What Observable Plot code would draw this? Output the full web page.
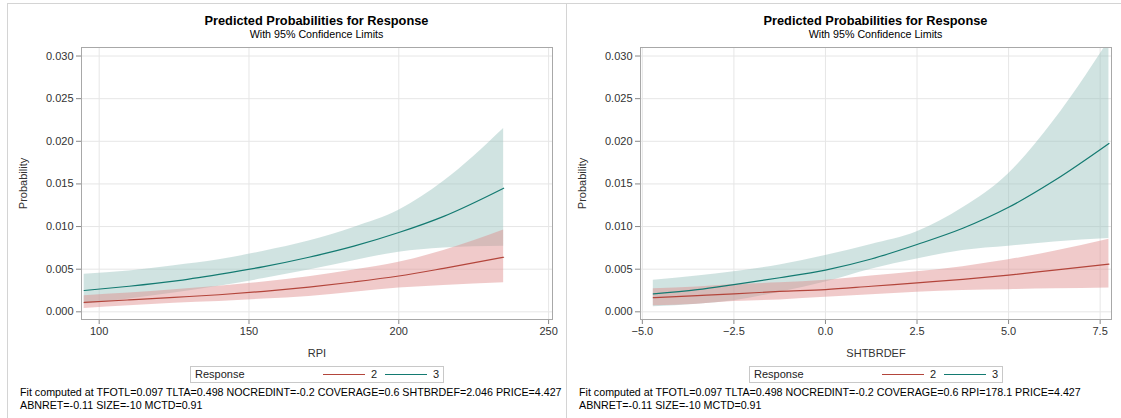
<!DOCTYPE html>
<html><head><meta charset="utf-8">
<script src="https://cdn.jsdelivr.net/npm/d3@7"></script>
<script src="https://cdn.jsdelivr.net/npm/@observablehq/plot@0.6"></script>
<style>
body{margin:0;background:#fff;font-family:"Liberation Sans",Arial,sans-serif;}
#root{position:relative;width:1121px;height:418px;overflow:hidden;background:#fff;}
.panel{position:absolute;top:0;width:560px;height:418px;}
.vline{position:absolute;top:3px;width:1px;height:415px;background:#d4d4d4;}
.hline{position:absolute;top:3px;left:7px;width:1114px;height:1px;background:#d4d4d4;}
.title{position:absolute;top:13px;left:81px;width:471px;text-align:center;font-weight:bold;font-size:12.8px;color:#000;line-height:15px;}
.sub{position:absolute;top:28px;left:81px;width:471px;text-align:center;font-size:10.7px;color:#000;line-height:13px;}
.plot{position:absolute;left:0;top:0;}
.legend{position:absolute;left:190px;top:366px;width:252px;height:15px;border:1px solid #c8c8c8;font-size:11px;color:#222;line-height:15px;}
.legend span{position:absolute;top:0;}
.legend i{position:absolute;top:7px;height:0;border-top:1.3px solid;width:42px;}
.foot{position:absolute;left:20px;top:386px;font-size:10.7px;line-height:13px;color:#000;white-space:nowrap;}
</style></head>
<body><div id="root"></div>
<script>
// ---------- data ----------
const colors = ["#B3453B", "#137A71"];
const fills = ["#DE8989", "#97C1BC"];
const responses = ["2", "3"];

// Panel 1: RPI
const rpiX   = [95, 110, 125, 140, 155, 170, 185, 200, 215, 235];
const rpiP2  = [0.0011, 0.0014, 0.0017, 0.0020, 0.0024, 0.0029, 0.0035, 0.0042, 0.0051, 0.0064];
const rpiLo2 = [0.0004, 0.0007, 0.0010, 0.0012, 0.0015, 0.0018, 0.0023, 0.0028, 0.0031, 0.0034];
const rpiHi2 = [0.0019, 0.0022, 0.0026, 0.0030, 0.0035, 0.0041, 0.0049, 0.0058, 0.0072, 0.0096];
const rpiP3  = [0.0025, 0.0030, 0.0036, 0.0044, 0.0053, 0.0064, 0.0077, 0.0093, 0.0112, 0.0145];
const rpiLo3 = [0.0009, 0.0015, 0.0022, 0.0030, 0.0039, 0.0049, 0.0060, 0.0070, 0.0075, 0.0077];
const rpiHi3 = [0.0044, 0.0048, 0.0054, 0.0061, 0.0071, 0.0083, 0.0099, 0.0119, 0.0153, 0.0215];

// Panel 2: SHTBRDEF
const shtX   = [-4.7, -3.5, -2.5, -1.25, 0, 1.25, 2.5, 3.75, 5, 6.25, 7.74];
const shtP2  = [0.00166, 0.0019, 0.0021, 0.0024, 0.0026, 0.0030, 0.0034, 0.0038, 0.0043, 0.0049, 0.0056];
const shtLo2 = [0.0007, 0.0009, 0.0012, 0.0014, 0.0017, 0.0020, 0.0023, 0.0025, 0.0026, 0.0027, 0.0028];
const shtHi2 = [0.0027, 0.0029, 0.0032, 0.0034, 0.0037, 0.0042, 0.0047, 0.0053, 0.0061, 0.0071, 0.0085];
const shtP3  = [0.0021, 0.0026, 0.0032, 0.0040, 0.0049, 0.0062, 0.0079, 0.0098, 0.01226, 0.0154, 0.01975];
const shtLo3 = [0.0006, 0.0009, 0.0013, 0.0023, 0.0035, 0.0050, 0.0062, 0.0072, 0.0077, 0.0082, 0.0086];
const shtHi3 = [0.0037, 0.0042, 0.0047, 0.0055, 0.0066, 0.0079, 0.0094, 0.0122, 0.0162, 0.0225, 0.0318];

const yTicks = [0, 0.005, 0.010, 0.015, 0.020, 0.025, 0.030];
const rpiTicks = [100, 150, 200, 250];
const shtTicks = [-5, -2.5, 0, 2.5, 5, 7.5];

const title = "Predicted Probabilities for Response";
const subtitle = "With 95% Confidence Limits";
const foot1 = ["Fit computed at TFOTL=0.097 TLTA=0.498 NOCREDINT=-0.2 COVERAGE=0.6 SHTBRDEF=2.046 PRICE=4.427", "ABNRET=-0.11 SIZE=-10 MCTD=0.91"];
const foot2 = ["Fit computed at TFOTL=0.097 TLTA=0.498 NOCREDINT=-0.2 COVERAGE=0.6 RPI=178.1 PRICE=4.427", "ABNRET=-0.11 SIZE=-10 MCTD=0.91"];

// ---------- build ----------
function rows(xs, p2, lo2, hi2, p3, lo3, hi3) {
  const out = [];
  xs.forEach((x, i) => {
    out.push({x, resp: "2", p: p2[i], lo: lo2[i], hi: hi2[i]});
    out.push({x, resp: "3", p: p3[i], lo: lo3[i], hi: hi3[i]});
  });
  return out;
}

function panel(left, xLabel, xDomain, xTicks, xFmt, data, foot) {
  const root = document.getElementById("root");
  const div = document.createElement("div");
  div.className = "panel";
  div.style.left = left + "px";
  root.appendChild(div);

  const chart = Plot.plot({
    width: 560, height: 364,
    marginLeft: 81, marginRight: 8, marginTop: 47, marginBottom: 45,
    style: {fontFamily: '"Liberation Sans", Arial, sans-serif', fontSize: "11px", color: "#333", background: "transparent"},
    x: {domain: xDomain},
    y: {domain: [-0.0009, 0.031]},
    color: {domain: responses, range: colors},
    marks: [
      Plot.gridX(xTicks, {stroke: "#e6e6e6", strokeOpacity: 1}),
      Plot.gridY(yTicks, {stroke: "#e6e6e6", strokeOpacity: 1}),
      Plot.areaY(data.filter(d => d.resp === "3"), {x: "x", y1: "lo", y2: "hi", fill: fills[1], fillOpacity: 0.45, curve: "monotone-x", clip: true}),
      Plot.areaY(data.filter(d => d.resp === "2"), {x: "x", y1: "lo", y2: "hi", fill: fills[0], fillOpacity: 0.45, curve: "monotone-x", clip: true}),
      Plot.line(data, {x: "x", y: "p", stroke: "resp", strokeWidth: 1.2, curve: "monotone-x", clip: true}),
      Plot.axisX({ticks: xTicks, tickFormat: xFmt, stroke: "#888", tickSize: 5, tickPadding: 3, label: xLabel, labelAnchor: "center", labelArrow: "none", labelOffset: 37}),
      Plot.axisY({ticks: yTicks, tickFormat: d3.format(".3f"), stroke: "#888", tickSize: 5, tickPadding: 3, label: "Probability", labelAnchor: "center", labelArrow: "none", labelOffset: 62}),
      Plot.frame({stroke: "#a8a8a8"})
    ]
  });
  chart.classList.add("plot");
  div.appendChild(chart);

  const t = document.createElement("div"); t.className = "title"; t.textContent = title; div.appendChild(t);
  const s = document.createElement("div"); s.className = "sub"; s.textContent = subtitle; div.appendChild(s);

  const lg = document.createElement("div"); lg.className = "legend";
  lg.innerHTML = `<span style="left:4px">Response</span>` +
    `<i style="left:132px;border-color:${colors[0]}"></i><span style="left:180px">${responses[0]}</span>` +
    `<i style="left:194px;border-color:${colors[1]}"></i><span style="left:242px">${responses[1]}</span>`;
  div.appendChild(lg);

  const f = document.createElement("div"); f.className = "foot";
  f.innerHTML = foot.join("<br>");
  div.appendChild(f);
}

panel(0, "RPI", [94.1, 251.3], rpiTicks, d3.format("d"), rows(rpiX, rpiP2, rpiLo2, rpiHi2, rpiP3, rpiLo3, rpiHi3), foot1);
panel(559, "SHTBRDEF", [-5.05, 7.81], shtTicks, d3.format(".1f"), rows(shtX, shtP2, shtLo2, shtHi2, shtP3, shtLo3, shtHi3), foot2);

const root = document.getElementById("root");
for (const x of [7, 566]) { const v = document.createElement("div"); v.className = "vline"; v.style.left = x + "px"; root.appendChild(v); }
const h = document.createElement("div"); h.className = "hline"; root.appendChild(h);
</script>
</body></html>
